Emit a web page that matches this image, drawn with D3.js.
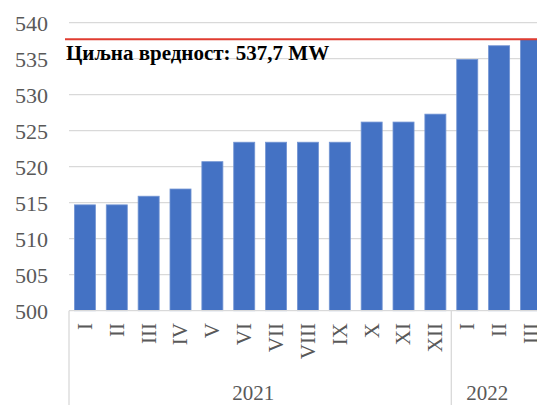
<!DOCTYPE html>
<html><head><meta charset="utf-8">
<script src="https://cdn.jsdelivr.net/npm/d3@7"></script>
<style>html,body{margin:0;padding:0;background:#fff;overflow:hidden}</style>
</head><body>
<svg id="c" width="537" height="405"></svg>
<script>
const months = ["I","II","III","IV","V","VI","VII","VIII","IX","X","XI","XII","I","II","III"];
const years = ["2021","2021","2021","2021","2021","2021","2021","2021","2021","2021","2021","2021","2022","2022","2022"];
const values = [514.7,514.7,515.9,516.9,520.7,523.4,523.4,523.4,523.4,526.2,526.2,527.3,534.9,536.8,537.7];
const yTicks = [500,505,510,515,520,525,530,535,540];
const target = 537.7;
const targetLabel = "Циљна вредност: 537,7 MW";

(function(){
const svg = d3.select("#c");
const W = 537, H = 405;
const pLeft = 69, pTop = 22.7, pBottom = 310.7;
const idx = values.map((d,i)=>i);
const x = d3.scaleBand().domain(idx).range([pLeft, pLeft + 31.86*values.length]).paddingInner(0.34).paddingOuter(0.17);
const y = d3.scaleLinear().domain([500,540]).range([pBottom, pTop]);
const serif = '"Liberation Serif"';

svg.append("g").selectAll("line").data(yTicks.slice(1)).join("line")
  .attr("x1", pLeft).attr("x2", W).attr("y1", d=>y(d)).attr("y2", d=>y(d))
  .attr("stroke", "#d9d9d9").attr("stroke-width", 1.3);

svg.append("g").selectAll("text").data(yTicks).join("text")
  .attr("x", 48).attr("y", d=>y(d)).attr("dy", "0.36em")
  .attr("text-anchor", "end").style("font-family", serif).style("font-size", "22px")
  .attr("fill", "#595959").text(d=>d);

svg.append("g").selectAll("rect").data(values).join("rect")
  .attr("x", (d,i)=>x(i)).attr("width", x.bandwidth())
  .attr("y", d=>y(d)).attr("height", d=>y(500)-y(d))
  .attr("fill", "#4472c4").attr("stroke", "#7395d3").attr("stroke-width", 0.8);

svg.append("line").attr("x1", pLeft).attr("x2", W).attr("y1", pBottom).attr("y2", pBottom)
  .attr("stroke", "#d9d9d9").attr("stroke-width", 1.3);

const groupStarts = idx.filter(i => i === 0 || years[i] !== years[i-1]);
svg.append("g").selectAll("line").data(groupStarts).join("line")
  .attr("x1", i => i===0 ? pLeft : x(i) - x.step()*x.paddingInner()/2)
  .attr("x2", i => i===0 ? pLeft : x(i) - x.step()*x.paddingInner()/2)
  .attr("y1", pBottom).attr("y2", H)
  .attr("stroke", "#d9d9d9").attr("stroke-width", 1.3);

svg.append("g").selectAll("text").data(months).join("text")
  .attr("transform", (d,i)=>`translate(${x(i)+x.bandwidth()/2},323) rotate(-90)`)
  .attr("dy", "0.33em").attr("text-anchor", "end")
  .style("font-family", serif).style("font-size", "21px").attr("fill", "#595959").text(d=>d);

const yearGroups = d3.groups(idx, i=>years[i]);
svg.append("g").selectAll("text").data(yearGroups).join("text")
  .attr("x", g => {
    const a = x(g[1][0]) - x.step()*x.paddingInner()/2;
    const b = Math.min(x(g[1][g[1].length-1]) + x.bandwidth() + x.step()*x.paddingInner()/2, W);
    return (a+b)/2 - 7;
  })
  .attr("y", 400).attr("text-anchor", "middle")
  .style("font-family", serif).style("font-size", "21px").attr("fill", "#595959").text(g=>g[0]);

svg.append("line").attr("x1", 65).attr("x2", W).attr("y1", y(target)).attr("y2", y(target))
  .attr("stroke", "#e03c31").attr("stroke-width", 2);
svg.append("text").attr("x", 66).attr("y", 60)
  .style("font-family", serif).style("font-weight", "bold").style("font-size", "21px")
  .attr("fill", "#000").text(targetLabel);
})();
</script>
</body></html>
